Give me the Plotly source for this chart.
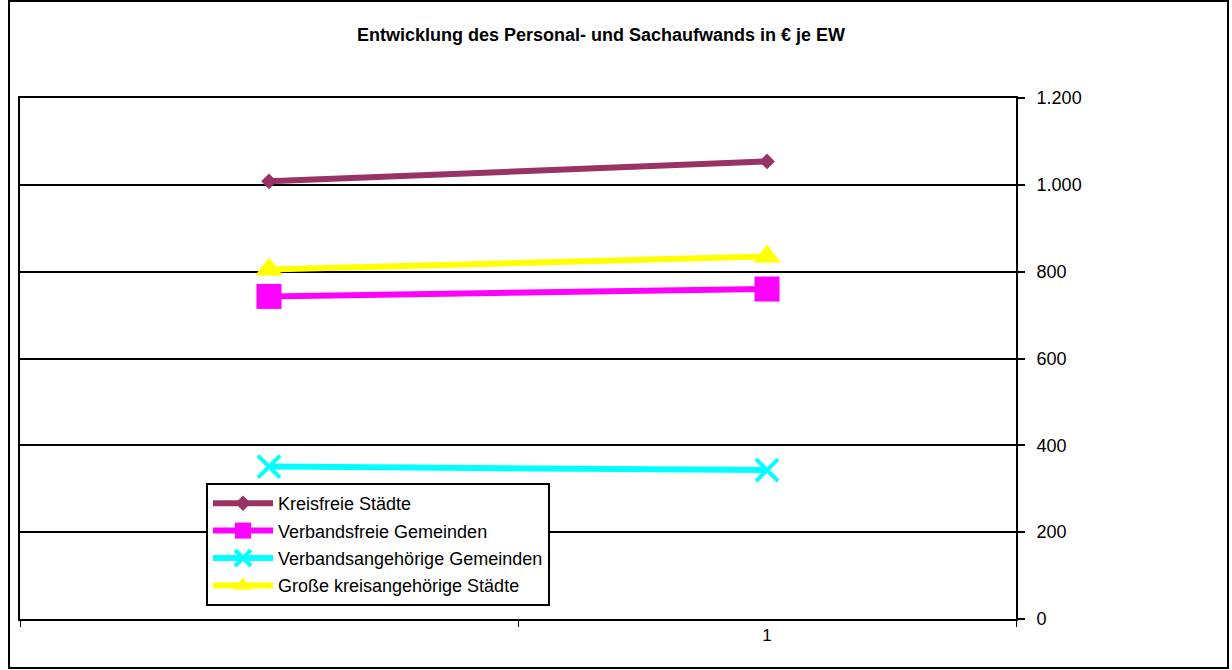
import plotly.graph_objects as go

# Categories on the x axis (first slot unlabelled)
categories = ["", "1"]

# Personal- und Sachaufwand in € je Einwohner
kreisfreie_staedte = [1008, 1054]
verbandsfreie_gemeinden = [743, 760]
verbandsangehoerige_gemeinden = [351, 343]
grosse_kreisangehoerige_staedte = [805, 835]

series_names = [
    "Kreisfreie Städte",
    "Verbandsfreie Gemeinden",
    "Verbandsangehörige Gemeinden",
    "Große kreisangehörige Städte",
]

y_ticks = [0, 200, 400, 600, 800, 1000, 1200]

W, H = 1232, 670
L, R, T, B = 20, 216, 98, 51
pw, ph = W - L - R, H - T - B

FONT = "Liberation Sans, Arial, sans-serif"

fig = go.Figure()

styles = [
    (kreisfreie_staedte, "#993366", dict(symbol="diamond", size=12, color="#993366")),
    (verbandsfreie_gemeinden, "#FF00FF", dict(symbol="square", size=25, color="#FF00FF")),
    (verbandsangehoerige_gemeinden, "#00FFFF",
     dict(symbol="x-thin", size=22, color="#00FFFF", line=dict(width=4, color="#00FFFF"))),
    (grosse_kreisangehoerige_staedte, "#FFFF00", dict(symbol="triangle-up", size=24, color="#FFFF00")),
]

for name, (vals, col, mk) in zip(series_names, styles):
    fig.add_trace(go.Scatter(
        x=categories, y=vals, name=name, mode="lines+markers",
        line=dict(color=col, width=6), marker=mk, legendgroup=name,
    ))

def px_x(p):
    return (p - L) / pw

def px_y(p):
    return (H - B - p) / ph

fig.update_layout(
    width=W, height=H,
    margin=dict(l=L, r=R, t=T, b=B),
    paper_bgcolor="white", plot_bgcolor="white",
    separators=",.",
    font=dict(family=FONT, color="black", size=18),
    title=dict(
        text="<b>Entwicklung des Personal- und Sachaufwands in € je EW</b>",
        x=601 / W, xanchor="center", xref="container",
        y=1 - 35 / H, yanchor="middle", yref="container",
        font=dict(family=FONT, size=18, color="black"),
    ),
    xaxis=dict(
        type="category", range=[-0.5, 1.5],
        tickson="boundaries", ticks="outside", ticklen=6, tickwidth=1, tickcolor="black",
        showline=True, linecolor="black", linewidth=2, mirror=True,
        showgrid=False, zeroline=False,
        tickfont=dict(family=FONT, size=17, color="black"),
    ),
    yaxis=dict(
        side="right", range=[0, 1200], tickvals=y_ticks, tickformat=",d",
        ticks="outside", ticklen=7, tickwidth=2, tickcolor="black",
        ticklabelstandoff=8,
        showline=True, linecolor="black", linewidth=2, mirror=True,
        showgrid=True, gridcolor="black", gridwidth=2, zeroline=False,
        tickfont=dict(family=FONT, size=18, color="black"),
    ),
    legend=dict(
        x=px_x(206), y=px_y(483), xanchor="left", yanchor="top",
        bgcolor="white", bordercolor="black", borderwidth=2,
        font=dict(family=FONT, size=18, color="black"),
        traceorder="grouped", tracegroupgap=1, itemwidth=60,
        entrywidth=400, entrywidthmode="pixels",
    ),
    showlegend=True,
)

# Outer frame around the whole chart
fig.add_shape(
    type="rect", xref="paper", yref="paper",
    x0=px_x(9), x1=px_x(1228), y0=px_y(668), y1=px_y(1),
    line=dict(color="black", width=2), fillcolor="rgba(0,0,0,0)", layer="below",
)

fig.write_html("out.html")
